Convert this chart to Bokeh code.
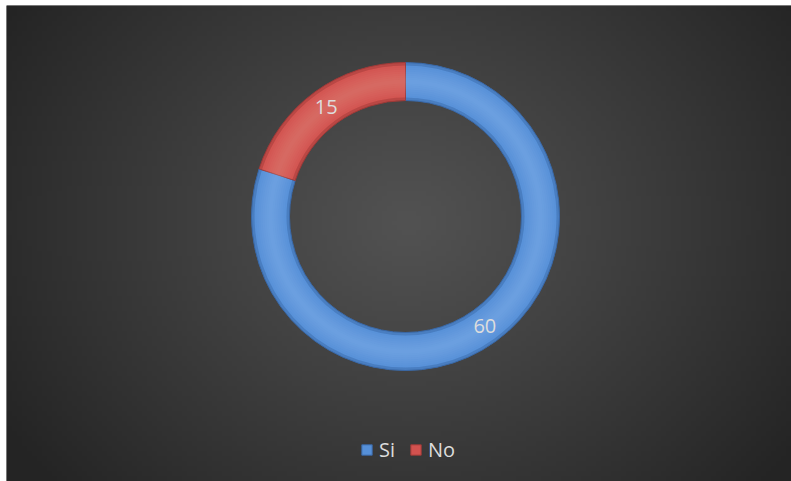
import numpy as np
from bokeh.plotting import figure
from bokeh.models import Range1d, ColumnDataSource, Legend, LegendItem
from bokeh.core.properties import value
from bokeh.embed import file_html
from bokeh.resources import INLINE

categories = ["Si", "No"]
values = [60, 15]
colors = ["#5690D8", "#D2524F"]
edge_colors = ["#3A68A6", "#9E3A38"]
light_colors = ["#8AB4EA", "#E68885"]

W, H = 785, 476
p = figure(width=W + 6, height=H + 5, output_backend="svg", toolbar_location=None,
           x_range=Range1d(0, W), y_range=Range1d(0, H),
           min_border_left=6, min_border_top=5, min_border_right=0, min_border_bottom=0,
           background_fill_color="#2a2a2a", border_fill_color="white")
p.axis.visible = False
p.grid.visible = False
p.outline_line_color = None

# radial gradient background
ny, nx = 95, 157
yy, xx = np.mgrid[0:ny, 0:nx]
cx, cy = 399 / 5, (H - 220) / 5
d = np.sqrt(((xx - cx) / 95) ** 2 + ((yy - cy) / 80) ** 2)
d = np.clip(d, 0, 1)
c0, c1 = 0x52, 0x24
g = (c0 + (c1 - c0) * d ** 1.1).astype(np.uint32)
img = (255 << 24) | (g << 16) | (g << 8) | g
p.image_rgba(image=[img.astype(np.uint32)], x=0, y=0, dw=W, dh=H)

cxp, cyp = 399, H - 211
r_out, r_in = 154, 116
total = sum(values)
fr = np.array(values) / total
cum = np.concatenate([[0], np.cumsum(fr)])
start = np.pi / 2 - 2 * np.pi * cum[:-1]
end = np.pi / 2 - 2 * np.pi * cum[1:]
mid = (start + end) / 2

src = ColumnDataSource(dict(cat=categories, val=values, start=start, end=end,
                            color=colors, edge=edge_colors, light=light_colors,
                            lx=cxp + 135 * np.cos(mid), ly=cyp + 135 * np.sin(mid),
                            lab=[str(v) for v in values]))

p.annular_wedge(x=cxp, y=cyp, inner_radius=r_in, outer_radius=r_out,
                start_angle="start", end_angle="end", direction="clock",
                fill_color="color", line_color="edge", line_width=1.0, source=src)
for k in range(1, 9):
    p.annular_wedge(x=cxp, y=cyp, inner_radius=r_in + 2 * k + 1, outer_radius=r_out - 2 * k - 1,
                    start_angle="start", end_angle="end", direction="clock",
                    fill_color="light", fill_alpha=0.07, line_color=None, source=src)
p.annular_wedge(x=cxp, y=cyp, inner_radius=r_out - 3, outer_radius=r_out,
                start_angle="start", end_angle="end", direction="clock",
                fill_color="edge", fill_alpha=0.45, line_color=None, source=src)
p.annular_wedge(x=cxp, y=cyp, inner_radius=r_in, outer_radius=r_in + 3,
                start_angle="start", end_angle="end", direction="clock",
                fill_color="edge", fill_alpha=0.45, line_color=None, source=src)

p.text(x="lx", y="ly", text="lab", source=src, text_align="center",
       text_baseline="middle", text_color="#DDDDDD", text_font_size="20px",
       text_font=value("Open Sans"))

items = []
for i, c in enumerate(categories):
    r = p.quad(left=[cxp], right=[cxp], bottom=[cyp], top=[cyp],
               fill_color=colors[i], line_color=edge_colors[i], visible=False)
    items.append(LegendItem(label=c, renderers=[r]))
legend = Legend(items=items, orientation="horizontal", location=(350, 14),
                background_fill_alpha=0, border_line_alpha=0,
                label_text_color="#DDDDDD", label_text_font_size="20px",
                label_text_font="Open Sans", glyph_width=13, glyph_height=13,
                spacing=10, label_standoff=6, margin=0, padding=4)
p.add_layout(legend, "center")

open("out.html", "w").write(file_html(p, INLINE))
